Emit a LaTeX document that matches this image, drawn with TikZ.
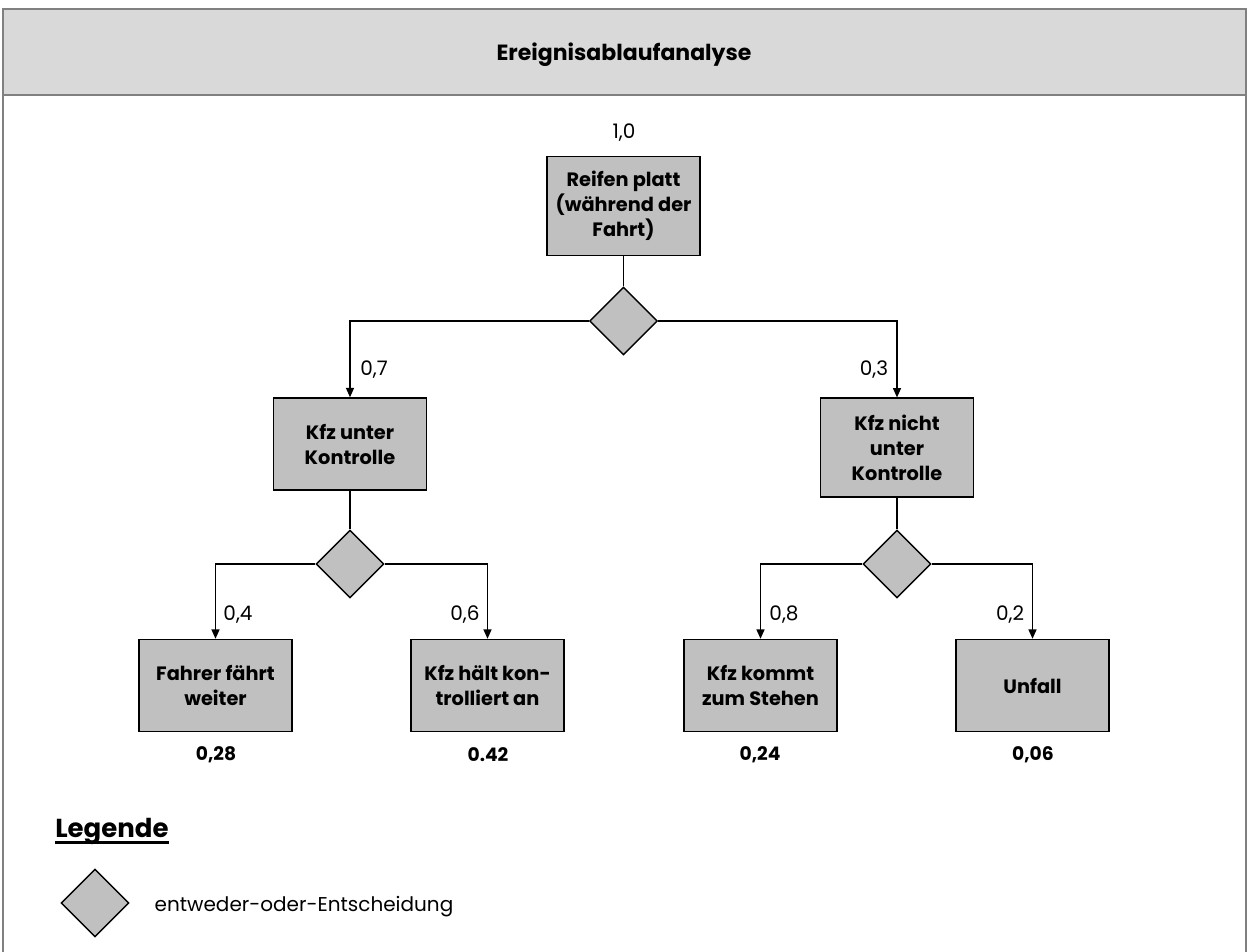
\documentclass[tikz,border=0pt]{standalone}
\usepackage{fontspec}
\setmainfont{Poppins}
\usetikzlibrary{shapes.geometric,arrows.meta}
\definecolor{boxgray}{HTML}{C0C0C0}
\definecolor{bandgray}{HTML}{D9D9D9}
\definecolor{framegray}{HTML}{808080}

\begin{document}
\begin{tikzpicture}[x=0.75pt,y=-0.75pt,
  evbox/.style={draw, line width=1.1pt, fill=boxgray, minimum width=114.75pt,
    minimum height=69pt, inner sep=2pt, align=center,
    font=\bfseries\fontsize{14.5}{18.75}\selectfont},
  tallbox/.style={evbox, minimum height=74pt},
  choice/.style={draw, line width=1.1pt, fill=boxgray, diamond, aspect=1,
    minimum size=51pt, inner sep=0pt},
  link/.style={line width=0.9pt},
  arrowlink/.style={link, -{Triangle[length=7pt,width=6pt]}},
  prob/.style={font=\fontsize{15}{17}\selectfont},
  result/.style={font=\bfseries\fontsize{14}{16}\selectfont}]

\useasboundingbox (0,0) rectangle (1249,952);

% frame and title band
\fill[bandgray] (3,9) rectangle (1246,95);
\draw[framegray, line width=1.5pt] (3,952) -- (3,9) -- (1246,9) -- (1246,952);
\draw[framegray, line width=1.5pt] (3,95) -- (1246,95);
\node[font=\bfseries\fontsize{16.5}{19}\selectfont] (title) at (624,55) {Ereignisablaufanalyse};

% events
\node[tallbox] (root) at (623.5,206) {Reifen platt\\(während der\\Fahrt)};
\node[prob] (p10) at (624,133) {1,0};
\node[choice] (d0) at (623.5,321) {};

\node[evbox] (ctrl) at (350,444) {Kfz unter\\Kontrolle};
\node[tallbox] (noctrl) at (897,447.5) {Kfz nicht\\unter\\Kontrolle};

\node[choice] (d1) at (350,564) {};
\node[choice] (d2) at (897,564) {};

\node[evbox] (drive) at (215.5,685.5) {Fahrer fährt\\weiter};
\node[evbox] (stop) at (487.5,685.5) {Kfz hält kon-\\trolliert an};
\node[evbox] (halt) at (760.5,685.5) {Kfz kommt\\zum Stehen};
\node[evbox] (crash) at (1032.5,685.5) {Unfall};

% connectors
\draw[link] (root) -- (d0);
\draw[arrowlink] (d0.west) -| (ctrl.north);
\draw[arrowlink] (d0.east) -| (noctrl.north);
\draw[link] (ctrl) -- (d1);
\draw[link] (noctrl) -- (d2);
\draw[arrowlink] (d1.west) -| (drive.north);
\draw[arrowlink] (d1.east) -| (stop.north);
\draw[arrowlink] (d2.west) -| (halt.north);
\draw[arrowlink] (d2.east) -| (crash.north);

% branch probabilities
\node[prob] (p07) at (374,370) {0,7};
\node[prob] (p03) at (874,370) {0,3};
\node[prob] (p04) at (238,615) {0,4};
\node[prob] (p06) at (465,615) {0,6};
\node[prob] (p08) at (784,615) {0,8};
\node[prob] (p02) at (1010,615) {0,2};

% outcome probabilities
\node[result] (r1) at (216,755) {0,28};
\node[result] (r2) at (488,755) {0.42};
\node[result] (r3) at (760,755) {0,24};
\node[result] (r4) at (1033,755) {0,06};

% legend
\node[anchor=base west, inner sep=0pt, font=\bfseries\fontsize{19.5}{22}\selectfont] (leg) at (55,837) {Legende};
\draw[line width=2.2pt] (leg.base west) ++(0,5.5) coordinate (u1) -- (u1 -| leg.east);
\node[choice] (legd) at (95,903) {};
\node[anchor=west, font=\fontsize{15}{17}\selectfont] (legt) at (150,907) {entweder-oder-Entscheidung};
\end{tikzpicture}
\end{document}
